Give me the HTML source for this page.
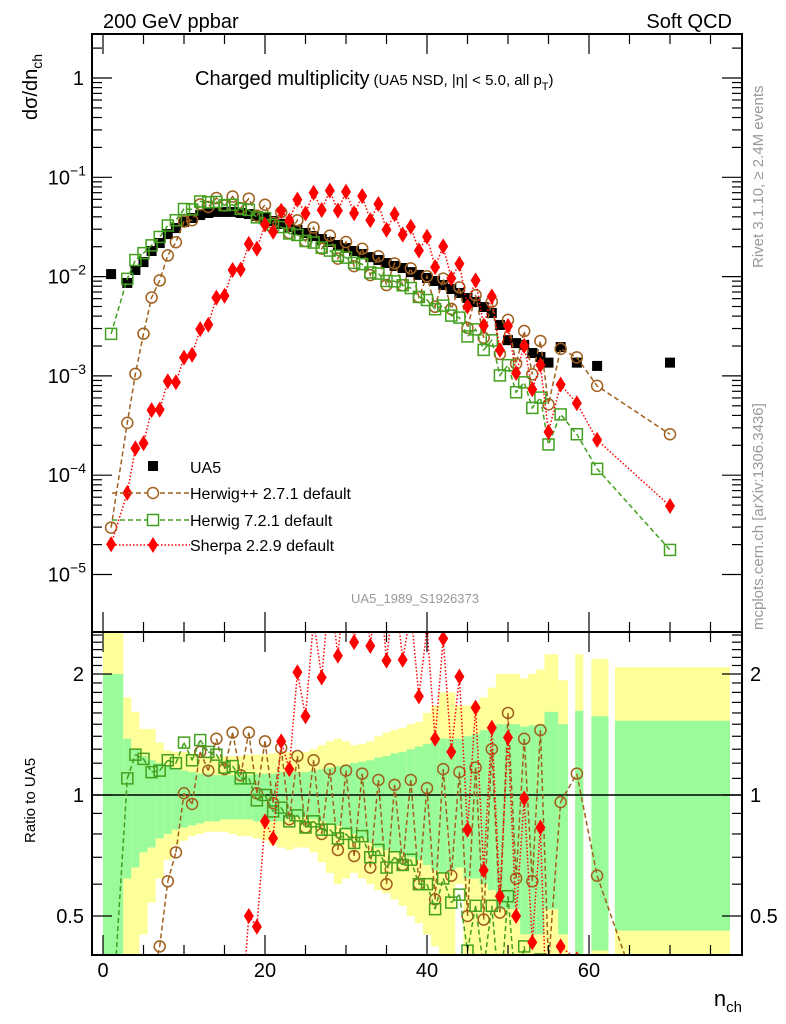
<!DOCTYPE html>
<html><head><meta charset="utf-8">
<style>
html,body{margin:0;padding:0;background:#fff;width:786px;height:1024px;overflow:hidden;}
svg{display:block;font-family:"Liberation Sans",sans-serif;}
</style></head>
<body>
<svg id="chart" width="786" height="1024" viewBox="0 0 786 1024" xmlns="http://www.w3.org/2000/svg">
<defs>
<clipPath id="clipMain"><rect x="92" y="34" width="650" height="598"/></clipPath>
<clipPath id="clipRatio"><rect x="92" y="632" width="650" height="323"/></clipPath>
</defs>
<g id="bands" clip-path="url(#clipRatio)"></g>
<g id="ratioMarks" clip-path="url(#clipRatio)"></g>
<g id="mainMarks" clip-path="url(#clipMain)"></g>
<g id="axes"></g>
<rect x="92" y="34" width="650" height="598" fill="none" stroke="#000" stroke-width="2"/>
<rect x="92" y="632" width="650" height="323" fill="none" stroke="#000" stroke-width="2"/>
<text x="103" y="28" font-size="20">200 GeV ppbar</text>
<text x="732" y="28" font-size="20" text-anchor="end">Soft QCD</text>
<text x="195" y="85" font-size="20">Charged multiplicity<tspan font-size="15" dx="4">(UA5 NSD, |η| &lt; 5.0, all p</tspan><tspan font-size="11" dy="5">T</tspan><tspan font-size="15" dy="-5">)</tspan></text>
<text transform="translate(37,120) rotate(-90)" font-size="20">dσ/dn<tspan font-size="14" dy="5">ch</tspan></text>
<text transform="translate(35,843) rotate(-90)" font-size="15">Ratio to UA5</text>
<text transform="translate(763,268) rotate(-90)" font-size="15" fill="#999">Rivet 3.1.10, ≥ 2.4M events</text>
<text transform="translate(763,630) rotate(-90)" font-size="15" fill="#999">mcplots.cern.ch [arXiv:1306.3436]</text>
<text x="415" y="603" font-size="13" fill="#999" text-anchor="middle">UA5_1989_S1926373</text>
<text x="742" y="1006" font-size="22" text-anchor="end">n<tspan font-size="15" dy="6">ch</tspan></text>
<g>
 <rect x="148" y="461" width="10" height="10" fill="#000"/>
 <text x="190" y="473" font-size="16">UA5</text>
 <line x1="112" y1="493" x2="190" y2="493" stroke="#a0601e" stroke-width="1.5" stroke-dasharray="5,3"/>
 <circle cx="153" cy="493" r="5.5" fill="#fff" stroke="#a0601e" stroke-width="1.5"/>
 <text x="190" y="499" font-size="16">Herwig++ 2.7.1 default</text>
 <line x1="112" y1="520" x2="190" y2="520" stroke="#42a01e" stroke-width="1.5" stroke-dasharray="5,3"/>
 <rect x="147.5" y="514.5" width="11" height="11" fill="#fff" stroke="#42a01e" stroke-width="1.5"/>
 <text x="190" y="526" font-size="16">Herwig 7.2.1 default</text>
 <line x1="112" y1="545" x2="190" y2="545" stroke="#ff0000" stroke-width="1.5" stroke-dasharray="1.5,2"/>
 <path d="M153,537 L158,545 L153,553 L148,545 Z" fill="#ff0000"/>
 <text x="190" y="551" font-size="16">Sherpa 2.2.9 default</text>
</g>
</svg>
<script>
const nVals = [1,3,4,5,6,7,8,9,10,11,12,13,14,15,16,17,18,19,20,21,22,23,24,25,26,27,28,29,30,31,32,33,34,35,36,37,38,39,40,41,42,43,44,45,46,47,48,49,50,51,52,53,54,55,56.5,58.5,61,70];
const binLo = [0,2.5,3.5,4.5,5.5,6.5,7.5,8.5,9.5,10.5,11.5,12.5,13.5,14.5,15.5,16.5,17.5,18.5,19.5,20.5,21.5,22.5,23.5,24.5,25.5,26.5,27.5,28.5,29.5,30.5,31.5,32.5,33.5,34.5,35.5,36.5,37.5,38.5,39.5,40.5,41.5,42.5,43.5,44.5,45.5,46.5,47.5,48.5,49.5,50.5,51.5,52.5,53.5,54.5,56.2,58.3,60.3,63.2];
const binHi = [2.5,3.5,4.5,5.5,6.5,7.5,8.5,9.5,10.5,11.5,12.5,13.5,14.5,15.5,16.5,17.5,18.5,19.5,20.5,21.5,22.5,23.5,24.5,25.5,26.5,27.5,28.5,29.5,30.5,31.5,32.5,33.5,34.5,35.5,36.5,37.5,38.5,39.5,40.5,41.5,42.5,43.5,44.5,45.5,46.5,47.5,48.5,49.5,50.5,51.5,52.5,53.5,54.5,56.2,57.4,59.3,62.4,77.4];
const ua5Vals = [0.0106,0.00863,0.01165,0.0140,0.0181,0.0218,0.0268,0.0308,0.0355,0.0389,0.0417,0.0437,0.0448,0.0448,0.0448,0.0437,0.0427,0.0407,0.0389,0.0363,0.0339,0.0316,0.0295,0.0275,0.0256,0.0239,0.0223,0.0208,0.0194,0.0181,0.0169,0.0157,0.0147,0.0137,0.0128,0.0122,0.0111,0.0104,0.00968,0.00903,0.00823,0.00750,0.00684,0.00609,0.00555,0.00494,0.00430,0.00326,0.00229,0.00214,0.00205,0.00170,0.00155,0.00136,0.00195,0.00136,0.00126,0.00136];
const herwigppRatio = [0.0028,0.039,0.09,0.19,0.34,0.42,0.61,0.72,1.01,0.95,1.28,1.15,1.38,1.16,1.43,1.12,1.43,1.01,1.36,0.955,1.31,0.87,1.25,0.83,1.22,0.80,1.16,0.73,1.15,0.705,1.13,0.66,1.09,0.60,1.06,0.67,1.09,0.60,1.04,0.55,1.16,0.63,1.14,0.50,1.17,0.49,1.30,0.51,1.60,0.62,1.38,0.61,1.45,0.38,0.96,1.13,0.63,0.19];
const herwig7Ratio = [0.25,1.10,1.26,1.23,1.14,1.15,1.22,1.20,1.35,1.22,1.37,1.28,1.26,1.17,1.18,1.10,1.10,0.97,1.00,0.91,0.93,0.86,0.89,0.83,0.86,0.82,0.82,0.78,0.80,0.76,0.79,0.70,0.73,0.66,0.70,0.67,0.69,0.60,0.60,0.52,0.62,0.54,0.565,0.41,0.53,0.37,0.53,0.31,0.56,0.32,0.42,0.28,0.39,0.15,0.21,0.19,0.092,0.013];
const sherpaRatio = [0.0019,0.0077,0.016,0.015,0.025,0.021,0.033,0.028,0.043,0.042,0.071,0.075,0.137,0.143,0.26,0.27,0.50,0.47,0.86,0.78,1.36,1.16,2.02,1.57,2.73,1.96,3.29,2.22,3.69,2.40,3.84,2.35,3.66,2.16,3.33,2.17,2.86,1.76,2.6,1.38,2.45,1.28,1.97,0.82,1.65,0.65,1.47,0.56,1.39,0.50,0.98,0.43,0.83,0.20,0.42,0.39,0.18,0.036];
const yellowHi = [3.0,1.75,1.61,1.46,1.46,1.35,1.29,1.28,1.28,1.27,1.25,1.25,1.25,1.25,1.25,1.25,1.26,1.26,1.26,1.27,1.27,1.28,1.28,1.28,1.30,1.33,1.36,1.38,1.36,1.33,1.34,1.36,1.40,1.43,1.45,1.47,1.50,1.52,1.60,1.67,1.80,1.80,1.67,1.67,1.70,1.75,1.85,2.0,2.0,2.0,1.95,2.0,2.05,2.24,1.93,2.24,2.18,2.08];
const greenHi = [2.0,1.38,1.30,1.25,1.22,1.20,1.18,1.16,1.15,1.14,1.13,1.13,1.12,1.12,1.12,1.12,1.12,1.13,1.13,1.13,1.14,1.14,1.14,1.14,1.15,1.16,1.17,1.18,1.19,1.20,1.21,1.22,1.24,1.25,1.27,1.28,1.30,1.32,1.34,1.36,1.38,1.38,1.38,1.40,1.42,1.45,1.48,1.50,1.50,1.50,1.48,1.49,1.50,1.61,1.50,1.62,1.57,1.53];
const greenLo = [0.3,0.62,0.66,0.72,0.74,0.78,0.80,0.82,0.83,0.84,0.85,0.86,0.86,0.87,0.87,0.87,0.87,0.86,0.86,0.86,0.86,0.87,0.88,0.88,0.87,0.86,0.85,0.84,0.82,0.80,0.78,0.76,0.74,0.73,0.72,0.71,0.70,0.69,0.67,0.65,0.64,0.65,0.66,0.62,0.62,0.60,0.58,0.52,0.52,0.52,0.45,0.45,0.45,0.52,0.45,0.38,0.41,0.46];
const yellowLo = [0.3,0.3,0.3,0.45,0.54,0.62,0.69,0.75,0.77,0.79,0.80,0.81,0.81,0.81,0.80,0.79,0.79,0.78,0.77,0.75,0.74,0.73,0.74,0.74,0.72,0.68,0.64,0.60,0.62,0.64,0.62,0.60,0.58,0.57,0.55,0.53,0.50,0.48,0.45,0.42,0.40,0.40,0.60,0.38,0.38,0.38,0.38,0.38,0.38,0.38,0.38,0.38,0.38,0.38,0.38,0.38,0.38,0.38];
const xTicks = [0,20,40,60];
const xTickLabels = ["0","20","40","60"];
const yExps = [0,-1,-2,-3,-4,-5];
const ratioMajor = [0.5,1,2];
const ratioMajorLabels = ["0.5","1","2"];

const NS = "http://www.w3.org/2000/svg";
const RTOP = 632, RBOT = 955;
function X(n){ return 103 + 8.1*n; }
function YT(v){ return 78 - 99.3*Math.log10(v); }
function YR(r){ return 795 - 121*Math.log2(r); }
function clampY(y){ return Math.max(RTOP, Math.min(RBOT, y)); }
function mk(tag, attrs, parent){
  const el = document.createElementNS(NS, tag);
  for (const k in attrs) el.setAttribute(k, attrs[k]);
  parent.appendChild(el);
  return el;
}
// clip a segment to y range [RTOP,RBOT]; returns null or [x1,y1,x2,y2]
function clipSeg(x1,y1,x2,y2){
  let t0=0,t1=1;
  const dy=y2-y1;
  const checks=[[-dy, y1-RTOP],[dy, RBOT-y1]];
  for (const c of checks){
    const p=c[0], q=c[1];
    if (p===0){ if (q<0) return null; }
    else {
      const t=q/p;
      if (p<0){ if (t>t1) return null; if (t>t0) t0=t; }
      else { if (t<t0) return null; if (t<t1) t1=t; }
    }
  }
  const dx=x2-x1;
  return [x1+t0*dx, y1+t0*dy, x1+t1*dx, y1+t1*dy];
}
const bands = document.getElementById('bands');
const ratioG = document.getElementById('ratioMarks');
const mainG = document.getElementById('mainMarks');
const axes = document.getElementById('axes');

for (let i=0;i<nVals.length;i++){
  const x1 = X(binLo[i]), x2 = X(binHi[i]);
  const yt = clampY(YR(yellowHi[i])), yb = clampY(YR(yellowLo[i]));
  let r = mk('rect',{x:x1,y:yt,width:x2-x1,height:yb-yt,fill:'#ffff99'},bands);
  
  
  const gt = clampY(YR(greenHi[i])), gb = clampY(YR(greenLo[i]));
  let g = mk('rect',{x:x1,y:gt,width:x2-x1,height:gb-gt,fill:'#99fb99'},bands);
  
  
}
const oneLine = mk('line',{x1:92,x2:742,y1:YR(1),y2:YR(1),stroke:'#000','stroke-width':1.5},ratioG);



const series = [
  {name:'herwigpp', ratio:herwigppRatio, color:'#a0601e', dash:'5,3', marker:'circle'},
  {name:'herwig7', ratio:herwig7Ratio, color:'#42a01e', dash:'5,3', marker:'square'},
  {name:'sherpa', ratio:sherpaRatio, color:'#ff0000', dash:'1.5,2', marker:'diamond'}
];
function drawMarker(type, x, y, color, parent, name){
  let el;
  if (type==='circle') el = mk('circle',{cx:x,cy:y,r:5.5,fill:'none',stroke:color,'stroke-width':1.5},parent);
  else if (type==='square') el = mk('rect',{x:x-5.5,y:y-5.5,width:11,height:11,fill:'none',stroke:color,'stroke-width':1.5},parent);
  else el = mk('path',{d:`M${x},${y-8} L${x+5},${y} L${x},${y+8} L${x-5},${y} Z`,fill:color},parent);
  
  
}
for (let i=0;i<nVals.length;i++){
  const s = mk('rect',{x:X(nVals[i])-5,y:YT(ua5Vals[i])-5,width:10,height:10,fill:'#000'},mainG);
  
  
}
series.forEach(function(s){
  const mp = [];
  let rd = '';
  for (let i=0;i<nVals.length;i++){
    const v = ua5Vals[i]*s.ratio[i];
    mp.push(X(nVals[i]).toFixed(1)+','+YT(v).toFixed(1));
    if (i>0){
      const c = clipSeg(X(nVals[i-1]), YR(s.ratio[i-1]), X(nVals[i]), YR(s.ratio[i]));
      if (c) rd += 'M'+c[0].toFixed(1)+','+c[1].toFixed(1)+' L'+c[2].toFixed(1)+','+c[3].toFixed(1)+' ';
    }
  }
  const l1 = mk('polyline',{points:mp.join(' '),fill:'none',stroke:s.color,'stroke-width':1.5,'stroke-dasharray':s.dash},mainG);
  
  
  const l2 = mk('path',{d:rd,fill:'none',stroke:s.color,'stroke-width':1.5,'stroke-dasharray':s.dash},ratioG);
  
  
  for (let i=0;i<nVals.length;i++){
    const v = ua5Vals[i]*s.ratio[i];
    drawMarker(s.marker, X(nVals[i]), YT(v), s.color, mainG, s.name+'-point-'+i);
    const yr = YR(s.ratio[i]);
    if (yr > RTOP-8 && yr < RBOT+8) drawMarker(s.marker, X(nVals[i]), yr, s.color, ratioG, s.name+'-ratio-point-'+i);
  }
});

for (let t=0;t<=75;t+=5){
  const major = (t%20===0);
  const len = major?20:10;
  const x = X(t);
  [[955,-1],[632,-1],[632,1],[34,1]].forEach(function(p){
    const tk = mk('line',{x1:x,x2:x,y1:p[0],y2:p[0]+p[1]*len,stroke:'#000','stroke-width':1.2},axes);
    
    
  });
}
xTicks.forEach(function(t,i){
  const lb = mk('text',{x:X(t),y:977,'font-size':20,'text-anchor':'middle'},axes);
  lb.textContent = xTickLabels[i];
  
  
});
yExps.forEach(function(e){
  for (let m=1;m<=9;m++){
    const y = YT(m*Math.pow(10,e));
    if (y<34||y>632) continue;
    const len = m===1?20:10;
    [[92,1],[742,-1]].forEach(function(p){
      const tk = mk('line',{x1:p[0],x2:p[0]+p[1]*len,y1:y,y2:y,stroke:'#000','stroke-width':1.2},axes);
      
      
    });
  }
  const y = YT(Math.pow(10,e));
  const lb = mk('text',{x:84,y:y+7,'font-size':20,'text-anchor':'end'},axes);
  
  
  if (e===0) lb.textContent='1';
  else {
    lb.textContent='10';
    const sp = mk('tspan',{'font-size':14,dy:-9},lb);
    sp.textContent='−'+(-e);
    lb.setAttribute('x',86);
  }
});
for (let k=4;k<=25;k++){
  const r = k/10;
  const y = YR(r);
  if (y<632||y>955) continue;
  const major = (k===5||k===10||k===20);
  const len = major?20:10;
  [[92,1],[742,-1]].forEach(function(p){
    const tk = mk('line',{x1:p[0],x2:p[0]+p[1]*len,y1:y,y2:y,stroke:'#000','stroke-width':1.2},axes);
    
    
  });
}
ratioMajor.forEach(function(r,i){
  const y = YR(r);
  const a = mk('text',{x:84,y:y+7,'font-size':20,'text-anchor':'end'},axes);
  a.textContent = ratioMajorLabels[i];
  
  
  const b = mk('text',{x:750,y:y+7,'font-size':20},axes);
  b.textContent = ratioMajorLabels[i];
  
  
});
</script>
</body></html>
